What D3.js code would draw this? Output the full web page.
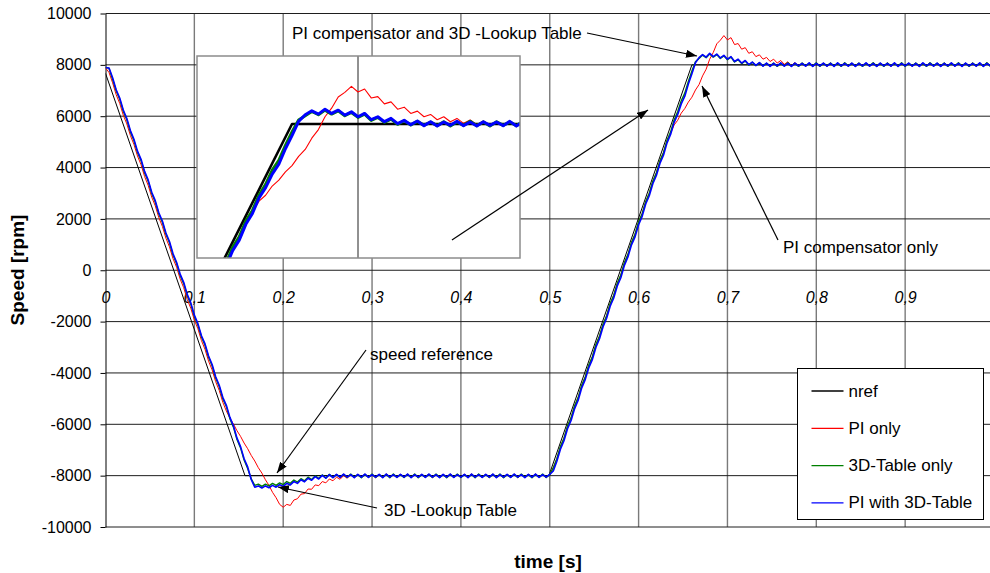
<!DOCTYPE html>
<html>
<head>
<meta charset="utf-8">
<script src="https://cdn.jsdelivr.net/npm/d3@7"></script>
<style>
    body { margin: 0; background: #fff; }
    svg { display: block; font-family: Arial, "Liberation Sans", sans-serif; }
</style>
</head>
<body>
<div class="container"></div>
<script>
const w = 990;
const h = 573;
const plotLeft = 105.5;
const plotTop = 13.5;
const plotBottom = 527;

// speed reference (piecewise linear)
const nrefTime = [0, 0.157, 0.499, 0.660, 0.996];
const nrefSpeed = [7670, -8000, -8000, 8000, 8000];

// measured speeds, one sample every 4 ms
const sampleStep = 0.004;
const piOnly = [
    7880, 7700, 7300, 6840, 6500, 6040, 5700, 5250, 4900, 4450,
    4110, 3650, 3310, 2850, 2510, 2050, 1710, 1250, 910, 450,
    120, -340, -680, -1140, -1480, -1940, -2280, -2740, -3080, -3540,
    -3880, -4340, -4680, -5140, -5480, -5760, -5990, -6250, -6470, -6730,
    -6950, -7210, -7430, -7690, -7900, -8160, -8380, -8650, -8860, -9120,
    -9230, -9120, -9160, -8950, -8900, -8720, -8700, -8520, -8530, -8360,
    -8390, -8230, -8280, -8130, -8200, -8060, -8140, -8000, -8100, -7960,
    -8080, -7950, -8070, -7940, -8060, -7960, -8080, -7950, -8060, -7940,
    -8070, -7960, -8060, -7950, -8080, -7940, -8060, -7960, -8070, -7950,
    -8060, -7940, -8080, -7960, -8060, -7950, -8070, -7940, -8060, -7960,
    -8080, -7950, -8060, -7940, -8070, -7960, -8060, -7950, -8080, -7940,
    -8060, -7960, -8070, -7950, -8060, -7940, -8080, -7960, -8060, -7950,
    -8070, -7940, -8060, -7960, -8080, -7950, -7680, -7340, -6880, -6540,
    -6080, -5740, -5290, -4950, -4490, -4150, -3700, -3360, -2900, -2560,
    -2110, -1770, -1310, -970, -520, -180, 280, 620, 1080, 1410,
    1870, 2210, 2670, 3000, 3460, 3800, 4260, 4590, 5050, 5330,
    5660, 5840, 6120, 6300, 6550, 6740, 7020, 7230, 7570, 7830,
    8220, 8480, 8820, 8960, 9140, 8970, 9060, 8790, 8830, 8610,
    8670, 8450, 8510, 8320, 8390, 8220, 8290, 8130, 8220, 8070,
    8170, 8020, 8120, 7980, 8090, 7950, 8070, 7940, 8060, 7960,
    8080, 7950, 8060, 7940, 8070, 7960, 8060, 7950, 8080, 7940,
    8060, 7960, 8070, 7950, 8060, 7940, 8080, 7960, 8060, 7950,
    8070, 7940, 8060, 7960, 8080, 7950, 8060, 7940, 8070, 7960,
    8060, 7950, 8080, 7940, 8060, 7960, 8070, 7950, 8060, 7940,
    8080, 7960, 8060, 7950, 8070, 7940, 8060, 7960, 8080, 7950
];
const table3D = [
    7900, 7860, 7440, 6990, 6660, 6190, 5860, 5390, 5050, 4590,
    4270, 3800, 3470, 2990, 2660, 2190, 1870, 1400, 1070, 590,
    260, -200, -520, -990, -1320, -1800, -2130, -2600, -2920, -3390,
    -3720, -4200, -4530, -5000, -5310, -5780, -6110, -6590, -6920, -7390,
    -7720, -8120, -8380, -8330, -8420, -8330, -8400, -8300, -8380, -8280,
    -8350, -8230, -8300, -8170, -8250, -8120, -8200, -8060, -8150, -8010,
    -8110, -7970, -8090, -7950, -8070, -7960, -8060, -7950, -8070, -7940,
    -8060, -7960, -8080, -7950, -8060, -7940, -8070, -7960, -8060, -7950,
    -8080, -7940, -8060, -7960, -8070, -7950, -8060, -7940, -8080, -7960,
    -8060, -7950, -8070, -7940, -8060, -7960, -8080, -7950, -8060, -7940,
    -8070, -7960, -8060, -7950, -8080, -7940, -8060, -7960, -8070, -7950,
    -8060, -7940, -8080, -7960, -8060, -7950, -8070, -7940, -8060, -7960,
    -8080, -7950, -8060, -7940, -8070, -7960, -7700, -7340, -6870, -6540,
    -6070, -5750, -5280, -4960, -4480, -4160, -3690, -3370, -2890, -2570,
    -2100, -1780, -1300, -980, -510, -190, 290, 610, 1080, 1400,
    1880, 2200, 2670, 3000, 3470, 3790, 4260, 4580, 5060, 5380,
    5850, 6170, 6600, 6900, 7350, 7760, 8120, 8250, 8380, 8280,
    8420, 8300, 8400, 8250, 8350, 8200, 8300, 8110, 8200, 8050,
    8150, 7990, 8100, 7970, 8080, 7960, 8060, 7950, 8070, 7940,
    8060, 7960, 8080, 7950, 8060, 7940, 8070, 7960, 8060, 7950,
    8080, 7940, 8060, 7960, 8070, 7950, 8060, 7940, 8080, 7960,
    8060, 7950, 8070, 7940, 8060, 7960, 8080, 7950, 8060, 7940,
    8070, 7960, 8060, 7950, 8080, 7940, 8060, 7960, 8070, 7950,
    8060, 7940, 8080, 7960, 8060, 7950, 8070, 7940, 8060, 7960,
    8080, 7950, 8060, 7940, 8070, 7960, 8060, 7950, 8080, 7940
];
const piWith3D = [
    7900, 7880, 7500, 7030, 6710, 6240, 5910, 5440, 5100, 4640,
    4320, 3850, 3520, 3040, 2710, 2240, 1920, 1450, 1120, 640,
    310, -150, -470, -940, -1270, -1750, -2080, -2550, -2870, -3340,
    -3670, -4150, -4480, -4950, -5260, -5730, -6060, -6540, -6870, -7340,
    -7660, -8150, -8450, -8400, -8480, -8400, -8470, -8380, -8450, -8350,
    -8420, -8300, -8360, -8230, -8300, -8160, -8240, -8100, -8180, -8040,
    -8130, -7990, -8100, -7960, -8080, -7950, -8070, -7940, -8060, -7960,
    -8080, -7950, -8060, -7940, -8070, -7960, -8060, -7950, -8080, -7940,
    -8060, -7960, -8070, -7950, -8060, -7940, -8080, -7960, -8060, -7950,
    -8070, -7940, -8060, -7960, -8080, -7950, -8060, -7940, -8070, -7960,
    -8060, -7950, -8080, -7940, -8060, -7960, -8070, -7950, -8060, -7940,
    -8080, -7960, -8060, -7950, -8070, -7940, -8060, -7960, -8080, -7950,
    -8060, -7940, -8070, -7960, -8060, -7950, -7820, -7440, -6970, -6640,
    -6170, -5850, -5390, -5060, -4580, -4250, -3790, -3470, -3000, -2670,
    -2200, -1870, -1400, -1080, -610, -290, 190, 520, 990, 1300,
    1770, 2100, 2580, 2900, 3370, 3690, 4160, 4480, 4960, 5290,
    5760, 6070, 6480, 6780, 7250, 7650, 8080, 8280, 8400, 8300,
    8450, 8320, 8420, 8270, 8370, 8220, 8320, 8130, 8220, 8070,
    8170, 8010, 8110, 7980, 8090, 7950, 8070, 7940, 8060, 7960,
    8080, 7950, 8060, 7940, 8070, 7960, 8060, 7950, 8080, 7940,
    8060, 7960, 8070, 7950, 8060, 7940, 8080, 7960, 8060, 7950,
    8070, 7940, 8060, 7960, 8080, 7950, 8060, 7940, 8070, 7960,
    8060, 7950, 8080, 7940, 8060, 7960, 8070, 7950, 8060, 7940,
    8080, 7960, 8060, 7950, 8070, 7940, 8060, 7960, 8080, 7950,
    8060, 7940, 8070, 7960, 8060, 7950, 8080, 7940, 8060, 7960
];
const time = piOnly.map((d, i) => +(i * sampleStep).toFixed(3));

const xTicks = [0, 0.1, 0.2, 0.3, 0.4, 0.5, 0.6, 0.7, 0.8, 0.9];
const xTickLabels = ['0', '0,1', '0,2', '0,3', '0,4', '0,5', '0,6', '0,7', '0,8', '0,9'];
const yTicks = [10000, 8000, 6000, 4000, 2000, 0, -2000, -4000, -6000, -8000, -10000];
const yTickLabels = ['10000', '8000', '6000', '4000', '2000', '0', '-2000', '-4000', '-6000', '-8000', '-10000'];

const seriesNames = ['nref', 'PI only', '3D-Table only', 'PI with 3D-Table'];
const seriesColors = ['#000000', '#ff0000', '#008000', '#0000ff'];

// annotations: text anchor and arrow in data units (time, speed)
const notes = [
    { text: 'PI compensator and 3D -Lookup Table', tx: 0.2099, ty: 9240, from: [0.5419, 9240], to: [0.6657, 8345] },
    { text: '', tx: 0, ty: 0, from: [0.3899, 1178], to: [0.6106, 6241] },
    { text: 'PI compensator only', tx: 0.7625, ty: 867, from: [0.7569, 1178], to: [0.6714, 7176] },
    { text: 'speed reference', tx: 0.2977, ty: -3262, from: [0.2932, -3106], to: [0.1930, -7897] },
    { text: '3D -Lookup Table', tx: 0.3134, ty: -9365, from: [0.3056, -9260], to: [0.1941, -8442] }
];

const svg = d3.select('.container')
    .append('svg')
    .attr('width', w)
    .attr('height', h);

const xScale = d3.scaleLinear().domain([0, 1]).range([plotLeft, 994]);
const yScale = d3.scaleLinear().domain([-10000, 10000]).range([plotBottom, plotTop]);

// grid
svg.append('g')
    .selectAll('line')
    .data(xTicks.slice(1))
    .join('line')
    .attr('x1', d => xScale(d))
    .attr('x2', d => xScale(d))
    .attr('y1', plotTop)
    .attr('y2', plotBottom)
    .attr('stroke', '#7a7a7a')
    .attr('stroke-width', 1.4);

svg.append('g')
    .selectAll('line')
    .data(yTicks)
    .join('line')
    .attr('x1', plotLeft)
    .attr('x2', w)
    .attr('y1', d => yScale(d))
    .attr('y2', d => yScale(d))
    .attr('stroke', '#1e1e1e')
    .attr('stroke-width', 1);

// axes
const yAxis = d3.axisLeft(yScale)
    .tickValues(yTicks)
    .tickFormat((d, i) => yTickLabels[i])
    .tickSize(5)
    .tickSizeOuter(0)
    .tickPadding(9);

svg.append('g')
    .attr('id', 'y-axis')
    .attr('transform', `translate(${plotLeft}, 0)`)
    .call(yAxis)
    .call(g => g.selectAll('text').style('font-size', '16px').attr('fill', '#000').style('font-family', 'Arial, "Liberation Sans", sans-serif'))
    .call(g => g.selectAll('line, path').attr('stroke', '#000'));

const xAxis = d3.axisBottom(xScale)
    .tickValues(xTicks)
    .tickFormat((d, i) => xTickLabels[i])
    .tickSize(0)
    .tickPadding(21);

svg.append('g')
    .attr('id', 'x-axis')
    .attr('transform', `translate(0, ${yScale(0)})`)
    .call(xAxis)
    .call(g => g.select('.domain').remove())
    .call(g => g.selectAll('text')
        .style('font-size', '16px')
        .style('font-style', 'italic')
        .style('font-family', 'Arial, "Liberation Sans", sans-serif')
        .attr('fill', '#000'));

svg.append('text')
    .attr('transform', 'translate(24, 270) rotate(-90)')
    .attr('text-anchor', 'middle')
    .style('font-size', '19px')
    .style('font-weight', 'bold')
    .text('Speed [rpm]');

svg.append('text')
    .attr('x', 548)
    .attr('y', 568)
    .attr('text-anchor', 'middle')
    .style('font-size', '19px')
    .style('font-weight', 'bold')
    .text('time [s]');

// curves
const allSeries = [
    nrefTime.map((t, i) => [t, nrefSpeed[i]]),
    time.map((t, i) => [t, piOnly[i]]),
    time.map((t, i) => [t, table3D[i]]),
    time.map((t, i) => [t, piWith3D[i]])
];
const mainWidths = [1, 1, 1.4, 1.6];

const line = d3.line()
    .x(d => xScale(d[0]))
    .y(d => yScale(d[1]));

svg.append('defs').append('clipPath')
    .attr('id', 'plot-clip')
    .append('rect')
    .attr('x', plotLeft)
    .attr('y', 0)
    .attr('width', w - plotLeft)
    .attr('height', h);

svg.append('g')
    .attr('clip-path', 'url(#plot-clip)')
    .selectAll('path')
    .data(allSeries)
    .join('path')
    .attr('d', line)
    .attr('fill', 'none')
    .attr('stroke', (d, i) => seriesColors[i])
    .attr('stroke-width', (d, i) => mainWidths[i])
    .attr('stroke-linejoin', 'round');

// magnified view of the second step
const inset = { x0: 197, x1: 520, y0: 56, y1: 258 };
const ixScale = d3.scaleLinear().domain([0.6024, 0.7982]).range([inset.x0, inset.x1]);
const iyScale = d3.scaleLinear().domain([3939, 10061]).range([inset.y1, inset.y0]);
const insetWidths = [2.6, 1.1, 3, 3];

svg.select('defs').append('clipPath')
    .attr('id', 'inset-clip')
    .append('rect')
    .attr('x', inset.x0)
    .attr('y', inset.y0)
    .attr('width', inset.x1 - inset.x0)
    .attr('height', inset.y1 - inset.y0);

svg.append('rect')
    .attr('x', inset.x0)
    .attr('y', inset.y0)
    .attr('width', inset.x1 - inset.x0)
    .attr('height', inset.y1 - inset.y0)
    .attr('fill', '#fff');

const insetG = svg.append('g').attr('clip-path', 'url(#inset-clip)');

insetG.append('line')
    .attr('x1', ixScale(0.7))
    .attr('x2', ixScale(0.7))
    .attr('y1', inset.y0)
    .attr('y2', inset.y1)
    .attr('stroke', '#222')
    .attr('stroke-width', 1);

const insetLine = d3.line()
    .x(d => ixScale(d[0]))
    .y(d => iyScale(d[1]));

insetG.selectAll('path')
    .data(allSeries)
    .join('path')
    .attr('d', insetLine)
    .attr('fill', 'none')
    .attr('stroke', (d, i) => seriesColors[i])
    .attr('stroke-width', (d, i) => insetWidths[i])
    .attr('stroke-linejoin', 'round');

svg.append('rect')
    .attr('x', inset.x0)
    .attr('y', inset.y0)
    .attr('width', inset.x1 - inset.x0)
    .attr('height', inset.y1 - inset.y0)
    .attr('fill', 'none')
    .attr('stroke', '#8c8c8c')
    .attr('stroke-width', 1.5);

// annotations
svg.select('defs').append('marker')
    .attr('id', 'arrow')
    .attr('markerUnits', 'userSpaceOnUse')
    .attr('markerWidth', 11)
    .attr('markerHeight', 8)
    .attr('refX', 11)
    .attr('refY', 4)
    .attr('orient', 'auto')
    .append('path')
    .attr('d', 'M0,0 L11,4 L0,8 Z')
    .attr('fill', '#000');

svg.append('g')
    .selectAll('line')
    .data(notes)
    .join('line')
    .attr('x1', d => xScale(d.from[0]))
    .attr('y1', d => yScale(d.from[1]))
    .attr('x2', d => xScale(d.to[0]))
    .attr('y2', d => yScale(d.to[1]))
    .attr('stroke', '#000')
    .attr('stroke-width', 1.2)
    .attr('marker-end', 'url(#arrow)');

svg.append('g')
    .selectAll('text')
    .data(notes.filter(d => d.text))
    .join('text')
    .attr('x', d => xScale(d.tx))
    .attr('y', d => yScale(d.ty))
    .attr('dominant-baseline', 'central')
    .style('font-size', '17px')
    .text(d => d.text);

// legend
const legend = svg.append('g').attr('transform', 'translate(797.5, 368.5)');
legend.append('rect')
    .attr('width', 186)
    .attr('height', 151)
    .attr('fill', '#fff')
    .attr('stroke', '#000')
    .attr('stroke-width', 1);

const items = legend.selectAll('g')
    .data(seriesNames)
    .join('g')
    .attr('transform', (d, i) => `translate(0, ${22.5 + i * 37.3})`);

items.append('line')
    .attr('x1', 14)
    .attr('x2', 46)
    .attr('stroke', (d, i) => seriesColors[i])
    .attr('stroke-width', 1.3);

items.append('text')
    .attr('x', 51)
    .attr('dominant-baseline', 'central')
    .style('font-size', '17px')
    .text(d => d);
</script>
</body>
</html>
